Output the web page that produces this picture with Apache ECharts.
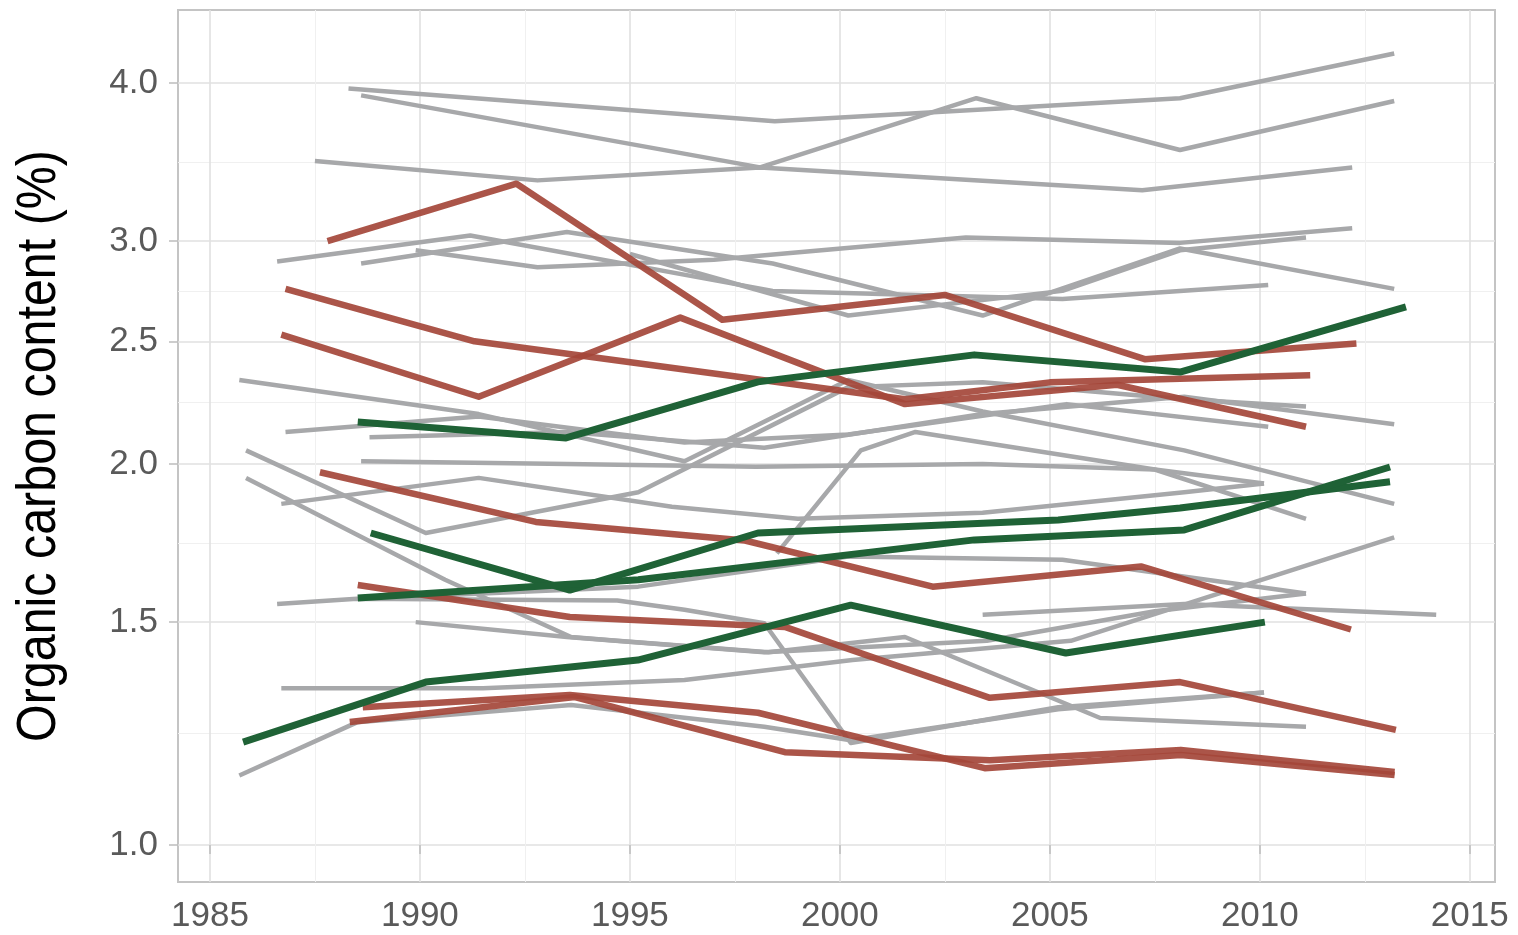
<!DOCTYPE html>
<html>
<head>
<meta charset="utf-8">
<script src="https://cdn.jsdelivr.net/npm/echarts@6/dist/echarts.min.js"></script>
<style>
  html, body { margin: 0; padding: 0; background: #ffffff; }
  #chart { width: 1518px; height: 935px; }
</style>
</head>
<body>
<div id="chart"></div>
<script>
// Axis breaks
const yearTicks = [1985, 1990, 1995, 2000, 2005, 2010, 2015];
const yearMinorTicks = [1987.5, 1992.5, 1997.5, 2002.5, 2007.5, 2012.5];
const carbonTicks = [1.0, 1.5, 2.0, 2.5, 3.0, 4.0];

// Sites with no clear trend: [year, organic carbon %]
const stableSites = [
  [[1988.3, 3.96], [1998.45, 3.73], [2008.1, 3.89], [2013.2, 4.22]],
  [[1988.6, 3.91], [1998.1, 3.43], [2003.25, 3.89], [2008.1, 3.54], [2013.2, 3.87]],
  [[1987.5, 3.47], [1992.8, 3.35], [1998.1, 3.43], [2007.2, 3.29], [2012.2, 3.43]],
  [[1986.6, 2.89], [1991.2, 3.03], [1998.4, 2.74], [2005.3, 2.70], [2010.2, 2.77]],
  [[1988.6, 2.88], [1993.5, 3.05], [1998.4, 2.88], [2003.4, 2.62], [2008.1, 2.96], [2013.2, 2.75]],
  [[1989.9, 2.95], [1992.8, 2.86], [1997.0, 2.90], [2003.0, 3.02], [2008.1, 2.99], [2012.2, 3.07]],
  [[1995.0, 2.93], [2000.2, 2.62], [2005.3, 2.74], [2008.1, 2.95], [2011.1, 3.02]],
  [[1985.7, 2.33], [1991.4, 2.19], [1996.3, 2.01], [2000.2, 2.33], [2003.4, 2.20], [2008.2, 2.05], [2013.2, 1.86]],
  [[1986.8, 2.12], [1991.4, 2.18], [1996.3, 2.08], [2000.2, 2.11], [2005.4, 2.23], [2010.2, 2.14]],
  [[1988.8, 2.10], [1993.5, 2.12], [1998.2, 2.06], [2003.4, 2.19], [2008.2, 2.26], [2013.2, 2.15]],
  [[1985.86, 2.05], [1990.14, 1.764], [1995.2, 1.90], [2000.2, 2.30], [2003.4, 2.32], [2008.2, 2.25], [2011.1, 2.22]],
  [[1985.86, 1.95], [1990.6, 1.62], [1993.6, 1.46], [1994.7, 1.45], [1998.3, 1.42], [2001.55, 1.46], [2006.2, 1.26], [2011.1, 1.24]],
  [[1988.6, 2.01], [1993.5, 2.00], [1998.0, 1.99], [2003.4, 2.00], [2007.5, 1.98], [2011.1, 1.81]],
  [[1986.7, 1.86], [1991.4, 1.95], [1996.0, 1.85], [1999.0, 1.81], [2003.4, 1.83], [2008.2, 1.90], [2010.1, 1.93]],
  [[1986.6, 1.55], [1988.5, 1.565], [1994.7, 1.56], [1996.3, 1.534], [1998.2, 1.497], [2000.26, 1.204], [2005.2, 1.285], [2010.1, 1.32]],
  [[1988.6, 1.565], [1995.2, 1.60], [2000.2, 1.69], [2005.3, 1.68], [2011.1, 1.58]],
  [[1989.9, 1.50], [1993.5, 1.46], [1998.2, 1.42], [2003.5, 1.45], [2007.5, 1.53], [2011.1, 1.58]],
  [[1986.7, 1.33], [1991.5, 1.33], [1996.3, 1.35], [2000.3, 1.40], [2005.5, 1.45], [2013.2, 1.75]],
  [[1985.7, 1.135], [1988.5, 1.25], [1993.6, 1.29], [1998.2, 1.24], [2000.26, 1.21], [2005.2, 1.28], [2010.1, 1.32]],
  [[1998.5, 1.70], [2000.5, 2.05], [2001.8, 2.12], [2007.5, 1.98], [2010.1, 1.93]],
  [[2003.4, 1.52], [2008.2, 1.55], [2014.2, 1.52]]
];

// Sites losing carbon
const decliningSites = [
  [[1987.8, 3.00], [1992.3, 3.33], [1997.2, 2.60], [2002.5, 2.72], [2007.26, 2.42], [2012.3, 2.49]],
  [[1986.8, 2.75], [1991.3, 2.50], [2001.55, 2.25], [2005.0, 2.32], [2011.2, 2.35]],
  [[1986.7, 2.53], [1991.4, 2.26], [1996.2, 2.61], [2001.55, 2.23], [2006.6, 2.31], [2011.1, 2.14]],
  [[1987.62, 1.97], [1992.76, 1.80], [1997.74, 1.74], [2002.21, 1.60], [2007.17, 1.66], [2012.17, 1.48]],
  [[1988.52, 1.605], [1993.57, 1.514], [1998.69, 1.487], [2003.57, 1.307], [2008.1, 1.345], [2013.24, 1.233]],
  [[1988.64, 1.285], [1993.57, 1.314], [1998.05, 1.272], [2003.45, 1.150], [2008.12, 1.178], [2013.21, 1.136]],
  [[1988.33, 1.251], [1993.69, 1.309], [1998.69, 1.184], [2003.57, 1.167], [2008.12, 1.189], [2013.21, 1.142]]
];

// Sites gaining carbon
const increasingSites = [
  [[1988.52, 2.159], [1993.48, 2.097], [1998.05, 2.322], [2003.2, 2.439], [2008.1, 2.364], [2013.48, 2.662]],
  [[1988.83, 1.764], [1993.57, 1.590], [1998.05, 1.764], [2005.2, 1.806], [2008.1, 1.846], [2013.1, 1.936]],
  [[1988.52, 1.567], [1995.2, 1.62], [2003.2, 1.742], [2008.2, 1.774], [2013.1, 1.989]],
  [[1985.79, 1.206], [1990.14, 1.345], [1995.19, 1.400], [2000.26, 1.547], [2005.38, 1.418], [2010.12, 1.500]]
];

const lg = v => Math.log10(v);
const yMin = lg(0.935);
const yMax = lg(4.567);
const carbonMinor = carbonTicks.slice(1).map((v, i) => (lg(v) + lg(carbonTicks[i])) / 2);

function lineSeries(site, color, width, opacity, z) {
  return {
    type: 'line',
    data: site.map(p => [p[0], lg(p[1])]),
    showSymbol: false,
    silent: true,
    z: z,
    lineStyle: { color: color, width: width, opacity: opacity, cap: 'butt', join: 'round' }
  };
}

const series = [];
stableSites.forEach(s => series.push(lineSeries(s, '#a7a8aa', 4.5, 1, 2)));
decliningSites.forEach(s => series.push(lineSeries(s, '#a4473a', 6.5, 0.92, 3)));
increasingSites.forEach(s => series.push(lineSeries(s, '#1f6236', 7, 1, 4)));

const labelFont = { fontFamily: 'Liberation Sans, Arial, sans-serif', fontSize: 35, color: '#5a5a5a' };

const chart = echarts.init(document.getElementById('chart'), null, { renderer: 'canvas' });
chart.setOption({
  animation: false,
  backgroundColor: '#ffffff',
  grid: {
    left: 178, right: 23, top: 10, bottom: 53,
    show: true, borderColor: '#c4c4c4', borderWidth: 2, backgroundColor: 'transparent'
  },
  xAxis: [
    {
      type: 'value', min: 1984.24, max: 2015.6,
      axisLine: { show: false },
      axisTick: { show: true, customValues: yearTicks, length: 9, lineStyle: { color: '#bdbdbd', width: 1.5 } },
      axisLabel: Object.assign({ customValues: yearTicks, margin: 17, formatter: v => String(v) }, labelFont),
      splitLine: { show: true, lineStyle: { color: '#e0e0e0', width: 1.6 } }
    },
    {
      type: 'value', min: 1984.24, max: 2015.6,
      axisLine: { show: false },
      axisTick: { show: false, customValues: yearMinorTicks },
      axisLabel: { show: false, customValues: yearMinorTicks },
      splitLine: { show: true, lineStyle: { color: '#f0f0f0', width: 1 } }
    }
  ],
  yAxis: [
    {
      type: 'value', min: yMin, max: yMax,
      axisLine: { show: false },
      axisTick: { show: true, customValues: carbonTicks.map(lg), length: 9, lineStyle: { color: '#bdbdbd', width: 1.5 } },
      axisLabel: Object.assign({ customValues: carbonTicks.map(lg), margin: 20, formatter: v => Math.pow(10, v).toFixed(1) }, labelFont),
      splitLine: { show: true, lineStyle: { color: '#e0e0e0', width: 1.6 } }
    },
    {
      type: 'value', min: yMin, max: yMax,
      axisLine: { show: false },
      axisTick: { show: false, customValues: carbonMinor },
      axisLabel: { show: false, customValues: carbonMinor },
      splitLine: { show: true, lineStyle: { color: '#f0f0f0', width: 1 } }
    }
  ],
  graphic: [{
    type: 'text',
    x: 40, y: 446,
    rotation: Math.PI / 2,
    scaleX: 0.88,
    style: {
      text: 'Organic carbon content (%)',
      fontFamily: 'Liberation Sans, Arial, sans-serif',
      fontSize: 55,
      fill: '#000000',
      align: 'center',
      verticalAlign: 'middle'
    }
  }],
  series: series
});
</script>
</body>
</html>
